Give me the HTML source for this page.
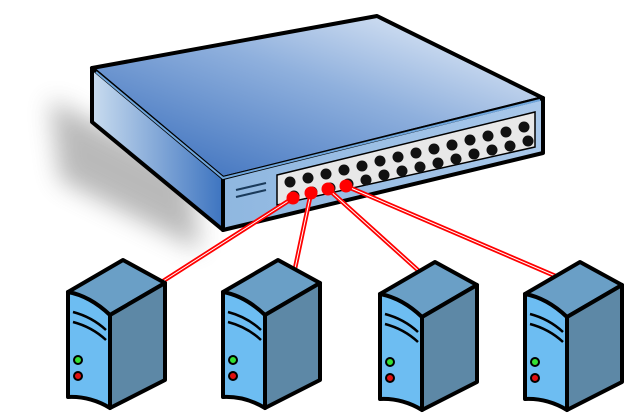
<!DOCTYPE html>
<html><head><style>body{margin:0;background:#fff}svg{display:block}</style></head><body>
<svg width="624" height="413" viewBox="0 0 624 413" xmlns="http://www.w3.org/2000/svg">
<defs>
<linearGradient id="top" x1="0" y1="1" x2="1" y2="0">
<stop offset="0" stop-color="#2f66b8"/><stop offset="0.55" stop-color="#8fb0dd"/><stop offset="1" stop-color="#f4f8fd"/></linearGradient>
<linearGradient id="left" x1="0" y1="0" x2="1" y2="0">
<stop offset="0" stop-color="#c9dcef"/><stop offset="1" stop-color="#3d74c0"/></linearGradient>
<linearGradient id="front" x1="0" y1="0" x2="1" y2="0">
<stop offset="0" stop-color="#8fb7e0"/><stop offset="1" stop-color="#a9c8ea"/></linearGradient>
<filter id="bl" x="-50%" y="-50%" width="200%" height="200%"><feGaussianBlur stdDeviation="12"/></filter>
<g id="srv">
<path d="M68,292 L123,260 L165,283 L110,315 Z" fill="#6a9fc6" stroke="#000" stroke-width="4" stroke-linejoin="round"/>
<path d="M110,315 L165,283 L165,380 L110,408 Z" fill="#5d88a6" stroke="#000" stroke-width="4" stroke-linejoin="round"/>
<path d="M68,292 Q90,296 110,315 L110,408 Q90,396 68,397 Z" fill="#6dbdf2" stroke="#000" stroke-width="4" stroke-linejoin="round"/>
<path d="M73,312 Q92,317 106,330 M73,322 Q92,327 106,340" stroke="#000" stroke-width="2.5" fill="none"/>
<circle cx="78" cy="360" r="4" fill="#33e033" stroke="#000" stroke-width="2"/>
<circle cx="78" cy="376" r="4" fill="#e01010" stroke="#000" stroke-width="2"/>
</g>
</defs>
<path d="M50,100 L190,170 L200,250 L60,180 Z" fill="#666" opacity="0.45" filter="url(#bl)"/>
<path d="M92,68 L377,16 L543,98 L223,178 Z" fill="url(#top)" stroke="#000" stroke-width="4" stroke-linejoin="round"/>
<path d="M92,68 L223,178 L223,230 L92,122 Z" fill="url(#left)" stroke="#000" stroke-width="4" stroke-linejoin="round"/>
<path d="M223,178 L543,98 L543,153 L223,230 Z" fill="url(#front)" stroke="#000" stroke-width="4" stroke-linejoin="round"/>
<path d="M96,72 L223,178 L540,100" stroke="#6fa6dc" stroke-width="2" fill="none"/>
<path d="M277,175 L535,112 L535,147 L277,205 Z" fill="#e8e8e8" stroke="#000" stroke-width="1.5"/>
<path d="M236,190 L266,183 M236,197 L266,190" stroke="#1a3a5a" stroke-width="2"/>
<g fill="#111">
<g id="row">
<circle cx="290" cy="182" r="5.5"/><circle cx="308" cy="178" r="5.5"/><circle cx="326" cy="174" r="5.5"/><circle cx="344" cy="170" r="5.5"/><circle cx="362" cy="166" r="5.5"/><circle cx="380" cy="161" r="5.5"/><circle cx="398" cy="157" r="5.5"/><circle cx="416" cy="153" r="5.5"/><circle cx="434" cy="149" r="5.5"/><circle cx="452" cy="145" r="5.5"/><circle cx="470" cy="140" r="5.5"/><circle cx="488" cy="136" r="5.5"/><circle cx="506" cy="132" r="5.5"/><circle cx="524" cy="127" r="5.5"/>
</g>
<use href="#row" transform="translate(4,14)"/>
</g>
<g stroke="#f00" stroke-width="4.5" fill="none">
<path d="M293,198 L157,285 M311,193 L290,292 M328,189 L420,272 M346,186 L560,278"/>
</g>
<g stroke="#fff" stroke-width="1" fill="none">
<path d="M293,198 L157,285 M311,193 L290,292 M328,189 L420,272 M346,186 L560,278"/>
</g>
<g fill="#f00"><circle cx="293" cy="198" r="6.5"/><circle cx="311" cy="193" r="6.5"/><circle cx="328" cy="189" r="6.5"/><circle cx="346" cy="186" r="6.5"/></g>
<use href="#srv"/>
<use href="#srv" transform="translate(155,0)"/>
<use href="#srv" transform="translate(312,2)"/>
<use href="#srv" transform="translate(457,2)"/>
</svg>
</body></html>
